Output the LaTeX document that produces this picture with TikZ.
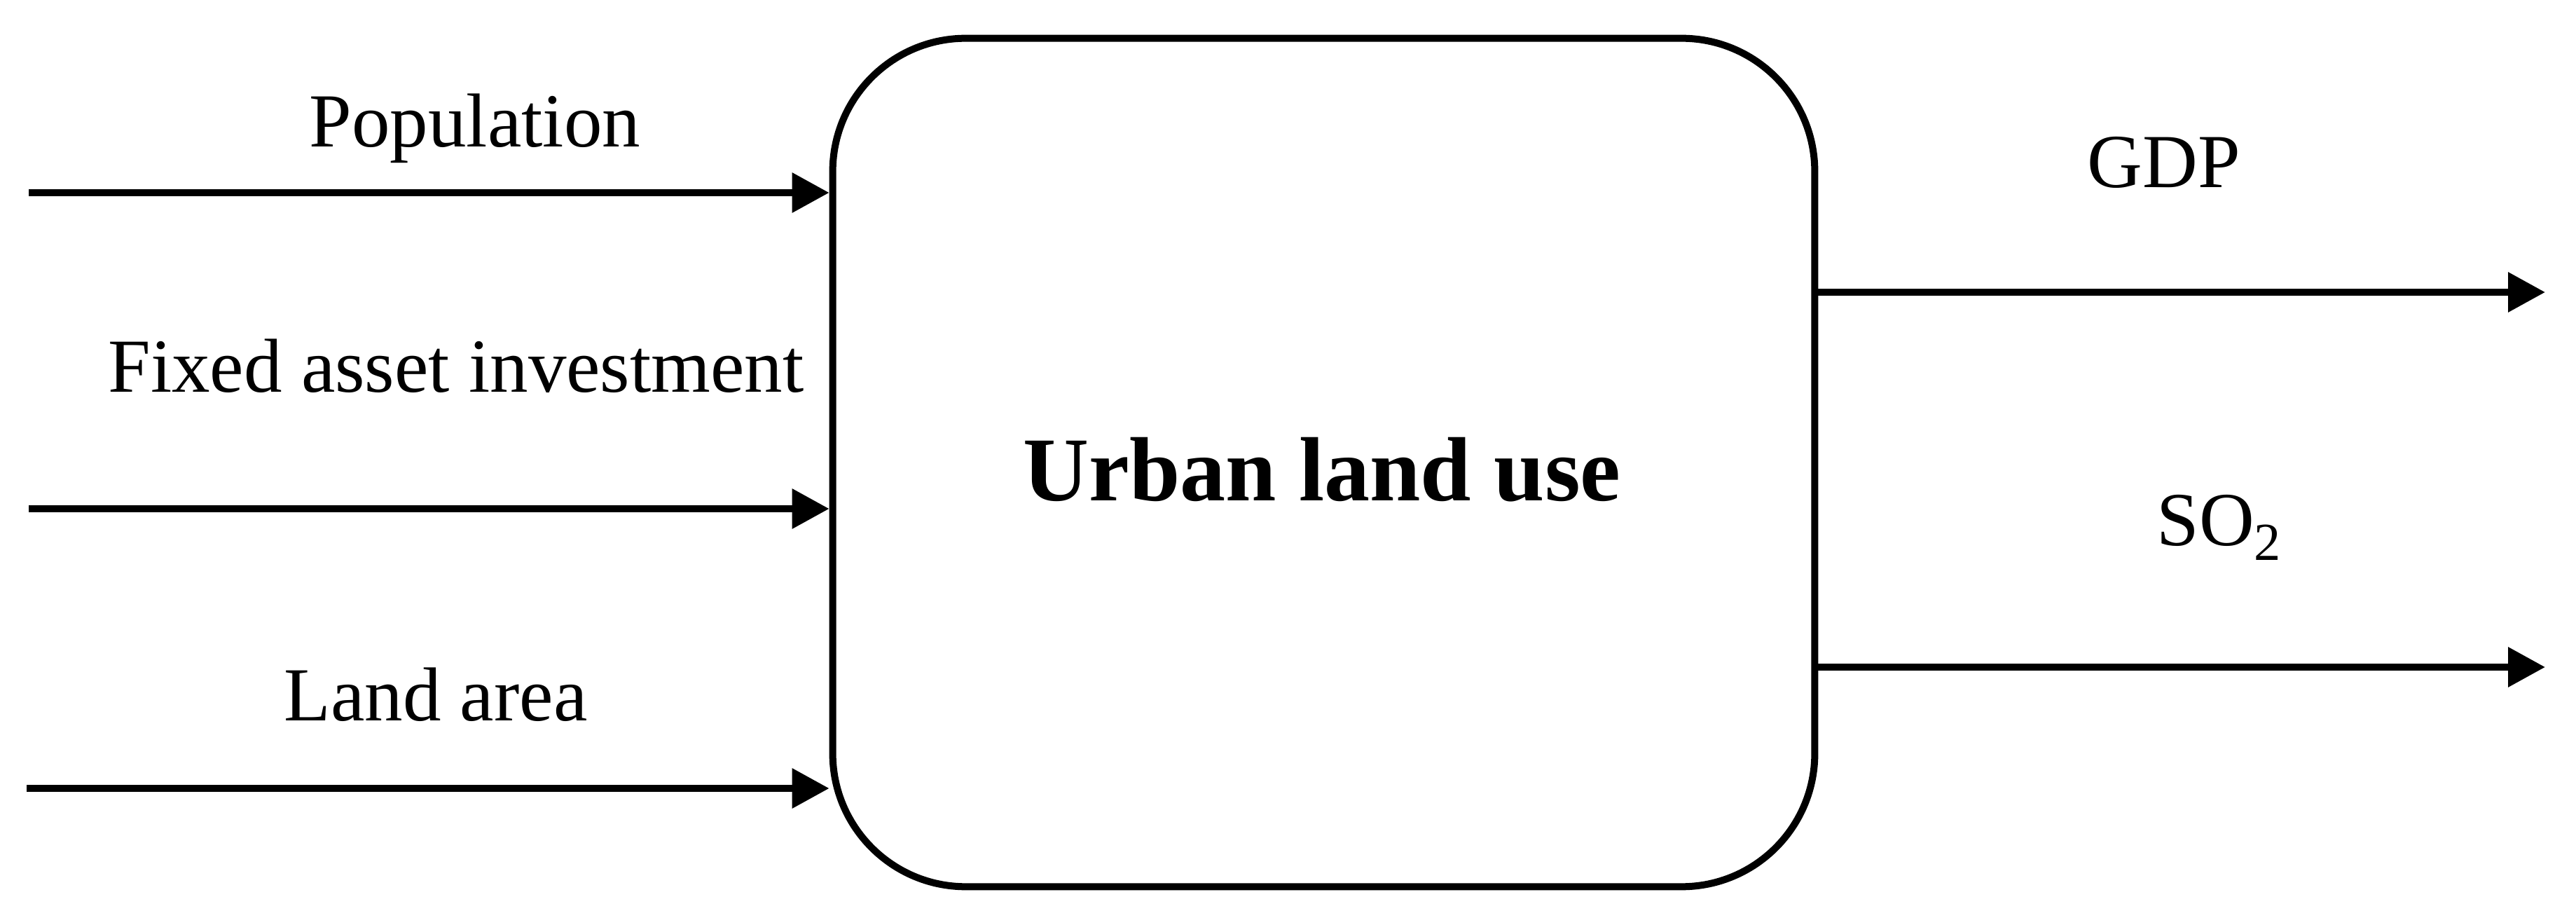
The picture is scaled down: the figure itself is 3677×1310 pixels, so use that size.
\documentclass[tikz,border=0pt]{standalone}
\usepackage{fontspec}
\setmainfont{Liberation Serif}
\usetikzlibrary{arrows.meta}
\begin{document}
\begin{tikzpicture}[x=0.01cm,y=-0.01cm,
  boxstyle/.style={draw=black,line width=0.1cm,rectangle,rounded corners=1.9cm,
    minimum width=14.01cm,minimum height=12.1cm,inner sep=0pt},
  arr/.style={line width=0.1cm,-{Triangle[length=0.53cm,width=0.55cm]}},
  lbl/.style={font=\fontsize{31}{37}\selectfont,anchor=base,inner sep=0pt},
  ttl/.style={font=\fontsize{37}{44}\selectfont\bfseries,inner sep=0pt}]
\useasboundingbox (0,0) rectangle (3677,1310);
\node[boxstyle] (box) at (1889.5,660) {};
\node[ttl] (title) at (1887,670) {Urban land use};
% input start points
\coordinate (i1) at (41,275);
\coordinate (i2) at (41,726);
\coordinate (i3) at (38,1125);
% output end points
\coordinate (o1) at (3633,417);
\coordinate (o2) at (3633,952);
\draw[arr] (i1) -- (i1 -| box.west);
\draw[arr] (i2) -- (i2 -| box.west);
\draw[arr] (i3) -- (i3 -| box.west);
\draw[arr] (o1 -| box.east) -- (o1);
\draw[arr] (o2 -| box.east) -- (o2);
% labels
\node[lbl] (lpop) at (678,210) {Population};
\node[lbl] (lfix) at (651,560) {Fixed asset investment};
\node[lbl] (lland) at (622,1029) {Land area};
\node[lbl] (lgdp) at (3089,268) {GDP};
\node[lbl] (lso) at (3168,779) {SO\textsubscript{2}};
\end{tikzpicture}
\end{document}
